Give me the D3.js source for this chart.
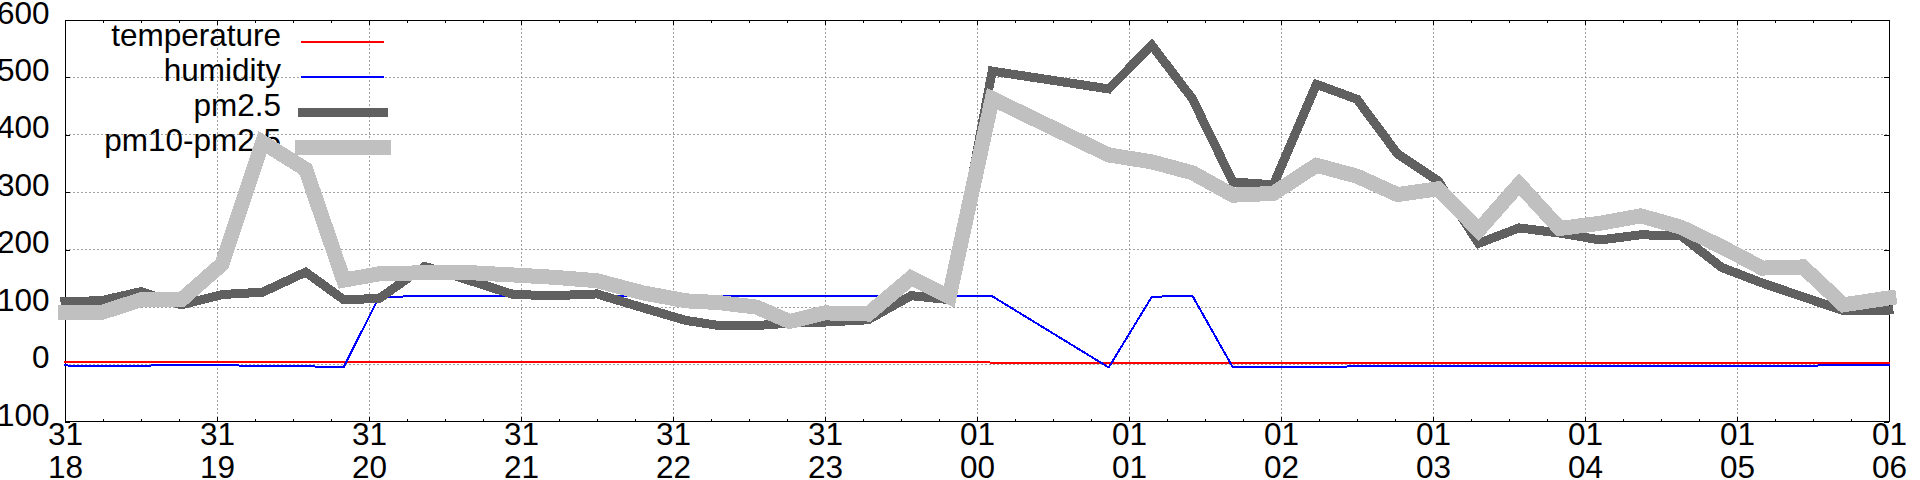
<!DOCTYPE html>
<html><head><meta charset="utf-8">
<script src="https://cdn.jsdelivr.net/npm/d3@7"></script>
<style>
html,body{margin:0;padding:0;background:#fff;}
svg{display:block;background:#fff;}
text{font-family:'Liberation Sans',Arial,sans-serif;font-size:31.5px;fill:#000;}
</style></head><body>
<svg id="chart" width="1920" height="480"></svg>
<script>
// ---- data ----
const startTime = new Date(2017, 11, 31, 18, 0);
const endTime = new Date(2018, 0, 1, 6, 0);
// sample times, minutes after 31 Dec 18:00
const sampleMinutes = [0, 14, 30, 46, 62, 78, 95, 110, 124, 142, 160, 177, 193, 210, 228, 245, 258, 273, 286, 300, 317, 334, 349, 366, 412, 429, 445, 461, 477, 494, 510, 526, 542, 558, 574, 590, 606, 622, 638, 654, 670, 686, 702, 720];
const temperature = [5, 5, 5, 4, 4, 5, 5, 5, 5, 5, 5, 5, 5, 5, 5, 5, 5, 5, 5, 5, 5, 5, 5, 3.5, 3.5, 3.5, 3.5, 3.5, 3.5, 3.5, 3.5, 3.5, 3.5, 3.5, 3.5, 3.5, 3.5, 3.5, 3.5, 3.5, 3.5, 3.5, 3.5, 3.5];
const humidity = [-1.5, -3, -2, -0.5, -1, -2.5, -3, -4.5, 118, 119, 119, 119, 119, 119, 119, 119, 119, 119, 119, 119, 119, 119, 119, 119, -5, 118, 120, -5, -5, -4.5, -3, -3, -3, -3, -3, -3, -3, -3, -3, -2, -2, -2, -1, 0];
const pm25 = [110, 111, 127, 104, 122, 126, 161, 113, 115, 171, 146, 122, 120, 123, 99, 77, 68, 68, 72, 74, 78, 120, 113, 511, 480, 556, 463, 318, 313, 488, 462, 367, 320, 211, 238, 229, 217, 226, 224, 169, 142, 118, 94, 95];
const pm10MinusPm25 = [90, 90, 113, 113, 175, 387, 340, 147, 158, 160, 160, 156, 152, 146, 125, 111, 108, 100, 75, 90, 88, 151, 118, 463, 365, 353, 334, 295, 298, 347, 328, 296, 306, 234, 314, 237, 246, 259, 239, 205, 168, 170, 104, 116];
const seriesNames = ["temperature", "humidity", "pm2.5", "pm10-pm2.5"];
const yTickValues = [-100, 0, 100, 200, 300, 400, 500, 600];

// ---- styles ----
const seriesValues = [temperature, humidity, pm25, pm10MinusPm25];
const seriesColors = ["#ff0000", "#0000ff", "#606060", "#c0c0c0"];
const seriesWidths = [2, 2, 9, 15];

const svg = d3.select("#chart");
const L = 65, R = 1889, T = 20, B = 422;
const x = d3.scaleTime().domain([startTime, endTime]).range([L, R]);
const y = d3.scaleLinear().domain([-100, 600]).range([B, T]);
const times = sampleMinutes.map(m => d3.timeMinute.offset(startTime, m));
const hourTicks = x.ticks(d3.timeHour.every(1));
const fmtDay = d3.timeFormat("%d"), fmtHour = d3.timeFormat("%H");

// grid
const grid = svg.append("g").attr("stroke", "#a0a0a0").attr("stroke-width", 1)
  .attr("stroke-dasharray", "2,2").attr("shape-rendering", "crispEdges");
grid.selectAll("line.gv").data(hourTicks.slice(1, -1)).join("line").attr("class", "gv")
  .attr("x1", d => Math.floor(x(d)) + 0.5).attr("x2", d => Math.floor(x(d)) + 0.5)
  .attr("y1", T).attr("y2", B);
grid.selectAll("line.gh").data(yTickValues.slice(1, -1)).join("line").attr("class", "gh")
  .attr("x1", L).attr("x2", R)
  .attr("y1", d => Math.floor(y(d)) + 0.5).attr("y2", d => Math.floor(y(d)) + 0.5);

// border
svg.append("rect").attr("x", L + 0.5).attr("y", T + 0.5).attr("width", R - L).attr("height", B - T - 1)
  .attr("fill", "none").attr("stroke", "#000").attr("stroke-width", 1).attr("shape-rendering", "crispEdges");

// axes
function clean(g) { g.select(".domain").remove(); g.attr("shape-rendering", "crispEdges"); }
svg.append("g").attr("transform", `translate(0,${B})`)
  .call(d3.axisBottom(x).ticks(d3.timeMinute.every(15)).tickSizeInner(-3).tickSizeOuter(0).tickFormat(() => ""))
  .call(clean);
svg.append("g").attr("transform", `translate(0,${T})`)
  .call(d3.axisTop(x).ticks(d3.timeMinute.every(15)).tickSizeInner(-3).tickSizeOuter(0).tickFormat(() => ""))
  .call(clean);
svg.append("g").attr("transform", `translate(0,${T})`)
  .call(d3.axisTop(x).ticks(d3.timeHour.every(1)).tickSizeInner(-5).tickSizeOuter(0).tickFormat(() => ""))
  .call(clean);
const xAxisG = svg.append("g").attr("transform", `translate(0,${B})`)
  .call(d3.axisBottom(x).ticks(d3.timeHour.every(1)).tickSizeInner(-5).tickSizeOuter(0).tickFormat(fmtDay))
  .call(clean);
xAxisG.selectAll(".tick text").each(function(d) {
  const t = d3.select(this).text(null).attr("y", null).attr("dy", null).attr("text-anchor", "middle");
  t.append("tspan").attr("x", 0).attr("y", 23).text(fmtDay(d));
  t.append("tspan").attr("x", 0).attr("y", 56).text(fmtHour(d));
});
svg.append("g").attr("transform", `translate(${L},0)`)
  .call(d3.axisLeft(y).tickValues(yTickValues).tickSizeInner(-5).tickSizeOuter(0).tickPadding(15.5).tickFormat(d3.format("d")))
  .call(clean)
  .call(g => g.selectAll(".tick text").attr("dy", 3));
svg.append("g").attr("transform", `translate(${R},0)`)
  .call(d3.axisRight(y).tickValues(yTickValues).tickSizeInner(-5).tickSizeOuter(0).tickFormat(() => ""))
  .call(clean);

// series with key entries (key drawn just before each series, as gnuplot does)
const lineGen = d3.line().x((d, i) => x(times[i])).y(d => y(d));
seriesValues.forEach((vals, i) => {
  const ky = 42 + 35 * i;
  svg.append("text").attr("x", 281).attr("y", ky + 3.5).attr("text-anchor", "end").text(seriesNames[i]);
  svg.append("line").attr("x1", 302).attr("x2", 383).attr("y1", ky).attr("y2", ky)
    .attr("stroke", seriesColors[i]).attr("stroke-width", seriesWidths[i]).attr("stroke-linecap", "square")
    .attr("shape-rendering", "crispEdges");
  svg.append("path").attr("d", lineGen(vals)).attr("fill", "none")
    .attr("stroke", seriesColors[i]).attr("stroke-width", seriesWidths[i])
    .attr("stroke-linecap", "square").attr("stroke-linejoin", "miter").attr("stroke-miterlimit", 2)
    .attr("shape-rendering", "crispEdges");
});
</script>
</body></html>
